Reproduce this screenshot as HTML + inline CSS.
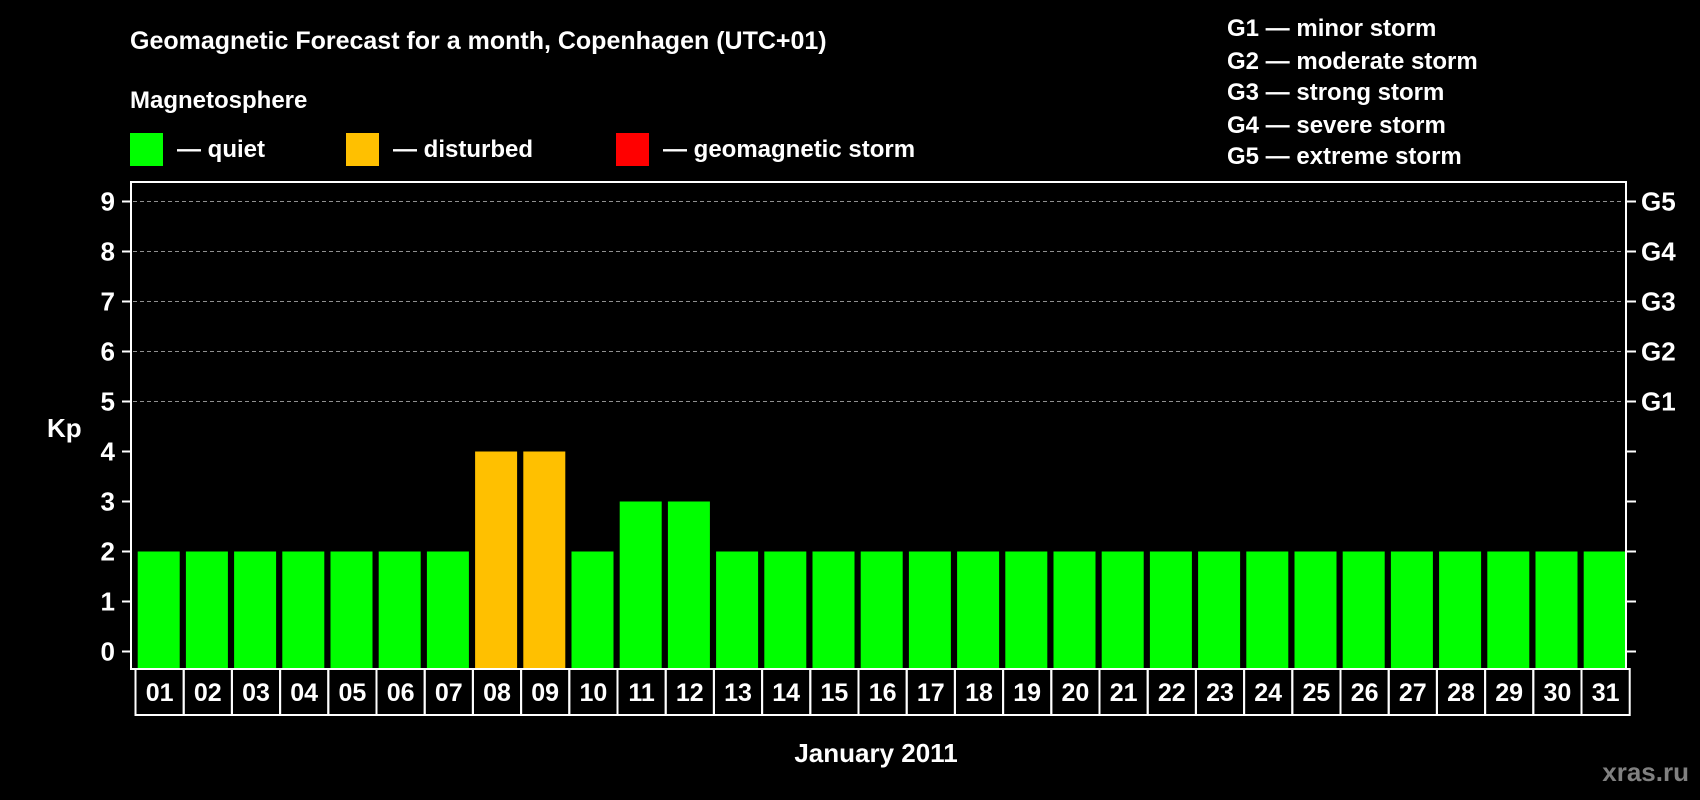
<!DOCTYPE html>
<html><head><meta charset="utf-8"><style>
html,body{margin:0;padding:0;background:#000;}
svg{display:block;font-family:"Liberation Sans",sans-serif;font-weight:bold;}
</style></head><body>
<svg width="1700" height="800" viewBox="0 0 1700 800">
<text x="130" y="49" font-size="25" fill="#fff">Geomagnetic Forecast for a month, Copenhagen (UTC+01)</text>
<text x="130" y="108" font-size="24" fill="#fff">Magnetosphere</text>
<g><rect x="130" y="133" width="33" height="33" fill="#00ff00"/><text x="177" y="157" font-size="24" fill="#fff">— quiet</text></g>
<g><rect x="346" y="133" width="33" height="33" fill="#ffc000"/><text x="393" y="157" font-size="24" fill="#fff">— disturbed</text></g>
<g><rect x="616" y="133" width="33" height="33" fill="#ff0000"/><text x="663" y="157" font-size="24" fill="#fff">— geomagnetic storm</text></g>
<g font-size="24" fill="#fff">
<text x="1227" y="36">G1 — minor storm</text>
<text x="1227" y="69">G2 — moderate storm</text>
<text x="1227" y="100">G3 — strong storm</text>
<text x="1227" y="133">G4 — severe storm</text>
<text x="1227" y="164">G5 — extreme storm</text>
</g>
<g id="grid"></g>
<g id="bars"></g>
<rect x="131" y="182" width="1495" height="487" fill="none" stroke="#fff" stroke-width="2"/>
<g id="axes"></g>
<g id="dates"></g>
<text x="47" y="437" font-size="26" fill="#fff">Kp</text>
<text x="876" y="762" font-size="26" fill="#fff" text-anchor="middle">January 2011</text>
<text x="1689" y="781" font-size="26" fill="#808080" text-anchor="end">xras.ru</text>
</svg>
<script>
const days=["01","02","03","04","05","06","07","08","09","10","11","12","13","14","15","16","17","18","19","20","21","22","23","24","25","26","27","28","29","30","31"];
const kp=[2,2,2,2,2,2,2,4,4,2,3,3,2,2,2,2,2,2,2,2,2,2,2,2,2,2,2,2,2,2,2];
const yTicks=[0,1,2,3,4,5,6,7,8,9];
const gLabels=["","","","","","G1","G2","G3","G4","G5"];
const NS="http://www.w3.org/2000/svg";
function y(v){return 651.5-v*50;}
function x(i){return 137.7+i*48.2;}
function mk(t,a,p){const e=document.createElementNS(NS,t);for(const k in a)e.setAttribute(k,a[k]);p.appendChild(e);return e;}
const grid=document.getElementById('grid'),bars=document.getElementById('bars'),axes=document.getElementById('axes'),dates=document.getElementById('dates');
yTicks.forEach((v,i)=>{
 if(v>=5){const g=mk('line',{x1:133,x2:1624,y1:y(v),y2:y(v),stroke:'#909090','stroke-width':1,'stroke-dasharray':'4,3'},grid);
 
 }
 mk('line',{x1:122,x2:131,y1:y(v),y2:y(v),stroke:'#fff','stroke-width':2},axes);
 mk('line',{x1:1626,x2:1636,y1:y(v),y2:y(v),stroke:'#fff','stroke-width':2},axes);
 const t=mk('text',{x:115,y:y(v)+9,'font-size':26,fill:'#fff','text-anchor':'end'},axes);t.textContent=v;
 
 
 if(gLabels[i]){const g2=mk('text',{x:1641,y:y(v)+9,'font-size':26,fill:'#fff'},axes);g2.textContent=gLabels[i];
 
 }
});
days.forEach((d,i)=>{
 const v=kp[i];const c=v>=5?'#ff0000':(v>=4?'#ffc000':'#00ff00');
 const r=mk('rect',{x:x(i),y:y(v),width:42,height:669-y(v),fill:c},bars);
 
 
 const cx=x(i)-2.2;
 const b=mk('rect',{x:cx,y:669,width:48.2,height:46,fill:'none',stroke:'#fff','stroke-width':2},dates);
 
 
 const t=mk('text',{x:cx+24.1,y:701,'font-size':25,fill:'#fff','text-anchor':'middle'},dates);t.textContent=d;
 
 
});
</script>
</body></html>
